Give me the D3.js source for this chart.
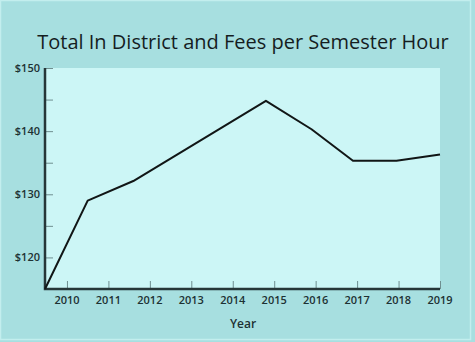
<!DOCTYPE html>
<html>
<head>
<meta charset="utf-8">
<script src="https://cdn.jsdelivr.net/npm/d3@7"></script>
<style>
  html, body { margin: 0; padding: 0; background: #a7dfe0; }
  svg { display: block; }
</style>
</head>
<body>
<script>
// Tuition series: year position and dollars per semester hour
const years  = [2009.47, 2010.5, 2011.6, 2014.8, 2015.9, 2016.9, 2017.95, 2019];
const values = [115, 129.0, 132.1, 144.8, 140.3, 135.3, 135.3, 136.3];

const xTickYears = [2010, 2011, 2012, 2013, 2014, 2015, 2016, 2017, 2018, 2019];
const yTickValues = [115, 120, 125, 130, 135, 140, 145, 150];
const yLabelValues = [120, 130, 140, 150];

const W = 475, H = 342;
const plot = { left: 45, right: 440, top: 68, bottom: 289 };

const svg = d3.select("body").append("svg")
  .attr("width", W).attr("height", H);

// outer panel with light rim
svg.append("rect").attr("x", 0).attr("y", 0).attr("width", W).attr("height", H)
  .attr("fill", "#a7dfe0");
svg.append("rect").attr("x", 0.5).attr("y", 0.5).attr("width", 470).attr("height", 339)
  .attr("fill", "none").attr("stroke", "#c3eeee").attr("stroke-width", 1.5);

const x = d3.scaleLinear().domain([2009.47, 2019]).range([plot.left, plot.right]);
const y = d3.scaleLinear().domain([115, 150]).range([plot.bottom, plot.top]);

// plot background
svg.append("rect")
  .attr("x", plot.left).attr("y", plot.top)
  .attr("width", plot.right - plot.left).attr("height", plot.bottom - plot.top)
  .attr("fill", "#ccf6f6");

// title
svg.append("text")
  .attr("x", 243).attr("y", 49)
  .attr("text-anchor", "middle")
  .attr("font-family", "'Open Sans', sans-serif")
  .attr("font-size", 20)
  .attr("fill", "#151d1f")
  .text("Total In District and Fees per Semester Hour");

// y ticks pointing into the plot
const yAxis = d3.axisRight(y).tickValues(yTickValues).tickSize(8).tickFormat("");
const gy = svg.append("g").attr("transform", `translate(${plot.left},0)`).call(yAxis);
gy.select(".domain").remove();
gy.selectAll(".tick line").attr("stroke", "#6f8f90").attr("stroke-width", 1);

// y labels
svg.append("g").selectAll("text").data(yLabelValues).join("text")
  .attr("x", plot.left - 5).attr("y", d => y(d) + 4)
  .attr("text-anchor", "end")
  .attr("font-family", "'Open Sans', sans-serif")
  .attr("font-weight", 600)
  .attr("font-size", 11)
  .attr("fill", "#1d3133")
  .text(d => "$" + d);

// x ticks pointing up into the plot
const xAxis = d3.axisTop(x).tickValues(xTickYears).tickSize(8).tickFormat("");
const gx = svg.append("g").attr("transform", `translate(0,${plot.bottom})`).call(xAxis);
gx.select(".domain").remove();
gx.selectAll(".tick line").attr("stroke", "#6f8f90").attr("stroke-width", 1);

svg.append("g").selectAll("text").data(xTickYears).join("text")
  .attr("x", d => x(d)).attr("y", plot.bottom + 15)
  .attr("text-anchor", "middle")
  .attr("font-family", "'Open Sans', sans-serif")
  .attr("font-weight", 600)
  .attr("font-size", 11)
  .attr("fill", "#1d3133")
  .text(d => d);

// axis lines
svg.append("path")
  .attr("d", `M${plot.left},${plot.top}V${plot.bottom}H${plot.right}`)
  .attr("fill", "none").attr("stroke", "#263638").attr("stroke-width", 2.5);

// x axis title
svg.append("text")
  .attr("x", 243).attr("y", 328)
  .attr("text-anchor", "middle")
  .attr("font-family", "'Open Sans', sans-serif")
  .attr("font-weight", 600)
  .attr("font-size", 12)
  .attr("fill", "#1d3133")
  .text("Year");

// series line
const line = d3.line().x((d, i) => x(years[i])).y(d => y(d));
svg.append("path")
  .datum(values)
  .attr("d", line)
  .attr("fill", "none")
  .attr("stroke", "#111616")
  .attr("stroke-width", 2)
  .attr("stroke-linejoin", "round");
</script>
</body>
</html>
